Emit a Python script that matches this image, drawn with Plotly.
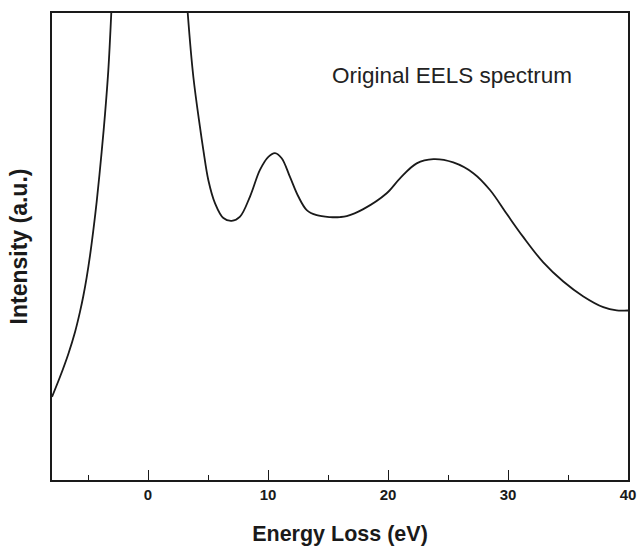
import plotly.graph_objects as go

energy_ev = [-8.0, -7.33, -6.64, -6.08, -5.67, -5.39, -5.11, -4.83, -4.56, -4.28, -3.86, -3.58, -3.31, -3.06,
             -2.5, -1.5, 0.0, 1.5, 2.6, 3.31, 3.78, 4.33, 4.61, 5.03, 5.58, 6.28,
             6.98, 7.67, 8.5, 9.33, 10.03, 10.58, 11.14, 11.83, 12.53, 13.23, 14.06,
             15.17, 16.0, 16.56, 17.94, 19.89, 21.0, 22.39, 23.78, 25.44, 27.11,
             28.5, 29.89, 31.28, 32.94, 34.61, 36.28, 37.94, 39.06, 40.0]
intensity = [17.8, 22.1, 27.0, 31.7, 36.0, 39.4, 43.4, 48.1, 53.4, 59.5, 70.3, 78.4, 87.6, 100.0,
             135.0, 190.0, 230.0, 190.0, 128.0, 100.0, 86.3, 75.6, 70.7, 64.2, 59.3, 56.1,
             55.5, 56.4, 60.7, 66.4, 69.2, 70.0, 68.9, 64.9, 60.7, 57.8, 56.7,
             56.3, 56.3, 56.5, 58.0, 61.4, 64.6, 67.8, 68.7, 68.0, 65.7,
             62.1, 57.0, 52.0, 46.6, 42.5, 39.3, 37.0, 36.3, 36.3]
x_tick_vals = [0, 10, 20, 30, 40]
x_tick_text = ["0", "10", "20", "30", "40"]

fig = go.Figure()
fig.add_trace(go.Scatter(
    x=energy_ev, y=intensity, mode="lines",
    line=dict(color="#1a1a1a", width=1.8, shape="spline", smoothing=1.0),
    showlegend=False, hoverinfo="skip",
))

font_family = "Liberation Sans, Arial, sans-serif"

fig.update_layout(
    width=640, height=546,
    margin=dict(l=52, r=12, t=13, b=66, autoexpand=False),
    paper_bgcolor="white", plot_bgcolor="white",
    font=dict(family=font_family, color="#1a1a1a"),
    xaxis=dict(
        range=[-8, 40], showgrid=False, zeroline=False, automargin=False,
        showline=True, linecolor="#1a1a1a", linewidth=1.6, mirror=True,
        ticks="inside", ticklen=10, tickwidth=1.4, tickcolor="#1a1a1a",
        tickmode="array", tickvals=x_tick_vals, ticktext=x_tick_text,
        tickfont=dict(size=15, family=font_family, weight="bold", color="#1a1a1a"),
        minor=dict(ticks="inside", ticklen=5, tickwidth=1.4, tickcolor="#1a1a1a", dtick=5, tick0=0, showgrid=False),
        title=dict(text="Energy Loss (eV)", font=dict(size=21.5, family=font_family, weight="bold", color="#1a1a1a"), standoff=24),
    ),
    yaxis=dict(
        range=[0, 100], showgrid=False, zeroline=False, automargin=False,
        showline=True, linecolor="#1a1a1a", linewidth=1.6, mirror=True,
        ticks="", showticklabels=False,
        title=dict(text="Intensity (a.u.)", font=dict(size=23, family=font_family, weight="bold", color="#1a1a1a"), standoff=16),
    ),
    annotations=[dict(
        text="Original EELS spectrum", xref="paper", yref="paper",
        x=(452 - 52) / 576, y=(480 - 75) / 467, xanchor="center", yanchor="middle",
        showarrow=False, font=dict(size=22.5, family=font_family, color="#222222"),
    )],
)

fig.write_html("out.html")
